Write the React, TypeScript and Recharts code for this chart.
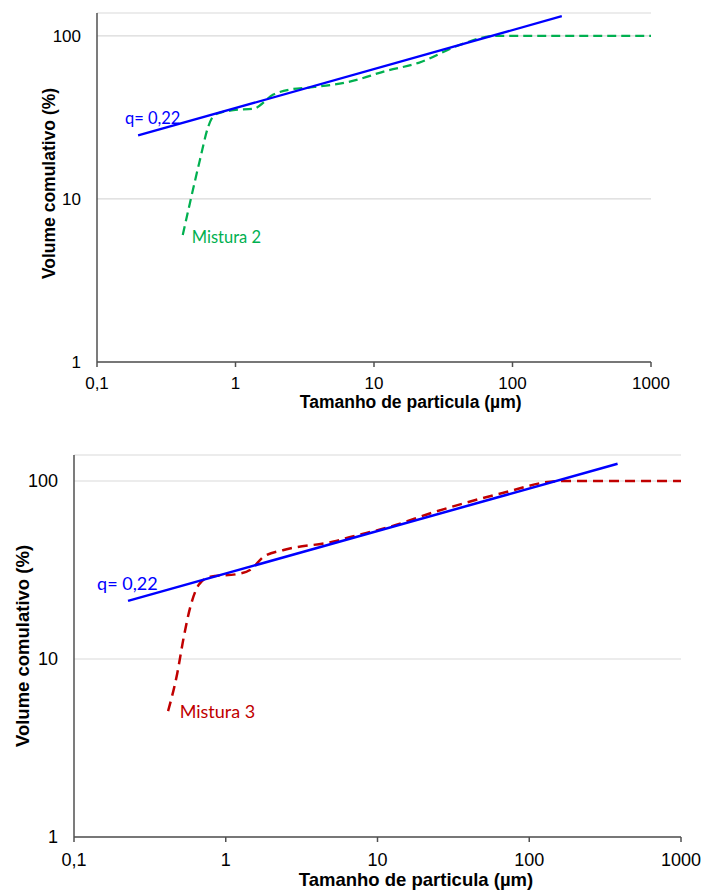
import React from "react"
import { LineChart, Line, XAxis, YAxis, CartesianGrid, ReferenceDot } from "recharts"

// axis ticks
const xTicks = [0.1, 1, 10, 100, 1000]
const yTicks = [1, 10, 100]

// Mistura 2 (top chart)
const sizeM2 = [0.416, 0.469, 0.554, 0.637, 0.711, 0.964, 1.346, 1.875, 2.46, 3.46, 6.9, 12, 21, 41, 74.8, 1000]
const volM2 = [6.0, 9.45, 17.4, 27.9, 32.9, 35.0, 35.7, 43.6, 46.8, 48.2, 52.7, 60.7, 68.3, 87.5, 100, 100]

// fitted line q = 0.22, top chart
const sizeFit2 = [0.198, 227]
const volFit2 = [24.5, 132]

// Mistura 3 (bottom chart)
const sizeM3 = [0.417, 0.479, 0.529, 0.585, 0.664, 0.793, 1.19, 1.455, 1.78, 2.41, 5.15, 6.84, 11.3, 24.3, 66.7, 158, 1000]
const volM3 = [5.1, 8.3, 13.3, 19.7, 26.1, 29.0, 30.0, 31.7, 37.6, 41.0, 45.7, 48.8, 54.4, 67.4, 85.6, 100, 100]

// fitted line q = 0.22, bottom chart
const sizeFit3 = [0.227, 382]
const volFit3 = [21.2, 125]

const toPoints = (xs: number[], ys: number[]) => xs.map((x, i) => ({ x, y: ys[i] }))

const fmt = (v: number) => String(v).replace(".", ",")

const AXIS = "#505050"
const BLUE = "#0000FF"
const GREEN = "#00B050"
const RED = "#C00000"

const annot = (text: string, color: string, size: number) => (props: any) => {
  const vb = props.viewBox || { x: 0, y: 0 }
  return (
    <text x={vb.x} y={vb.y} fill={color} fontSize={size} fontFamily="Lato" dominantBaseline="central">
      {text}
    </text>
  )
}

const title = (text: string, x: number, y: number, size: number, rotate?: boolean) => () => (
  <text
    x={x}
    y={y}
    textAnchor="middle"
    dominantBaseline="central"
    fontFamily="Liberation Sans"
    fontWeight="bold"
    fontSize={size}
    fill="#000"
    transform={rotate ? `rotate(-90, ${x}, ${y})` : undefined}
  >
    {text}
  </text>
)

function Panel({ cfg }: { cfg: any }) {
  return (
    <LineChart width={704} height={cfg.height} margin={{ top: cfg.top, right: cfg.right, left: 0, bottom: 0 }}>
      <CartesianGrid vertical={false} stroke="#d9d9d9" strokeWidth={1.2} />
      <XAxis
        type="number"
        dataKey="x"
        scale="log"
        domain={[0.1, 1000]}
        ticks={xTicks}
        allowDataOverflow
        tickFormatter={fmt}
        height={cfg.xAxisHeight}
        stroke={AXIS}
        strokeWidth={1.5}
        tickSize={5}
        tickMargin={cfg.xTickMargin}
        tick={{ fill: "#000", fontSize: cfg.tickFont, fontFamily: "Liberation Sans" }}
        label={title("Tamanho de particula (µm)", cfg.xTitle[0], cfg.xTitle[1], cfg.titleFont)}
      />
      <YAxis
        type="number"
        dataKey="y"
        scale="log"
        domain={[1, cfg.yMax]}
        ticks={yTicks}
        allowDataOverflow
        width={cfg.yAxisWidth}
        stroke={AXIS}
        strokeWidth={1.5}
        tickLine={false}
        tickSize={0}
        tickMargin={16}
        tick={{ fill: "#000", fontSize: cfg.tickFont, fontFamily: "Liberation Sans" }}
        label={title("Volume comulativo (%)", cfg.yTitle[0], cfg.yTitle[1], cfg.titleFont, true)}
      />
      <Line
        data={cfg.curve}
        dataKey="y"
        type="monotone"
        stroke={cfg.color}
        strokeWidth={cfg.lineWidth}
        strokeDasharray={cfg.dash}
        dot={false}
        isAnimationActive={false}
      />
      <Line
        data={cfg.fit}
        dataKey="y"
        type="linear"
        stroke={BLUE}
        strokeWidth={cfg.lineWidth}
        dot={false}
        isAnimationActive={false}
      />
      <ReferenceDot x={cfg.qAt[0]} y={cfg.qAt[1]} r={0} stroke="none" label={annot("q= 0,22", BLUE, cfg.noteFont)} />
      <ReferenceDot x={cfg.nameAt[0]} y={cfg.nameAt[1]} r={0} stroke="none" label={annot(cfg.name, cfg.color, cfg.noteFont)} />
    </LineChart>
  )
}

const topCfg = {
  height: 420,
  top: 13,
  right: 53,
  yAxisWidth: 97,
  xAxisHeight: 58,
  yMax: 138,
  xTickMargin: 10,
  tickFont: 17,
  titleFont: 17.5,
  noteFont: 16.5,
  xTitle: [410.7, 402],
  yTitle: [49, 183.5],
  curve: toPoints(sizeM2, volM2),
  fit: toPoints(sizeFit2, volFit2),
  color: GREEN,
  dash: "9 5",
  lineWidth: 2.25,
  name: "Mistura 2",
  qAt: [0.159, 31.5],
  nameAt: [0.483, 5.85],
}

const bottomCfg = {
  height: 450,
  top: 15,
  right: 23,
  yAxisWidth: 74,
  xAxisHeight: 53,
  yMax: 140,
  xTickMargin: 11,
  tickFont: 18,
  titleFont: 18.5,
  noteFont: 18,
  xTitle: [416, 439.5],
  yTitle: [22.5, 206],
  curve: toPoints(sizeM3, volM3),
  fit: toPoints(sizeFit3, volFit3),
  color: RED,
  dash: "10 6",
  lineWidth: 2.5,
  name: "Mistura 3",
  qAt: [0.142, 26.7],
  nameAt: [0.497, 5.12],
}

export default function App() {
  return (
    <div style={{ position: "absolute", left: 0, top: 0, width: 704, height: 890, background: "#fff" }}>
      <div style={{ position: "absolute", left: 0, top: 0 }}>
        <Panel cfg={topCfg} />
      </div>
      <div style={{ position: "absolute", left: 0, top: 440 }}>
        <Panel cfg={bottomCfg} />
      </div>
    </div>
  )
}
